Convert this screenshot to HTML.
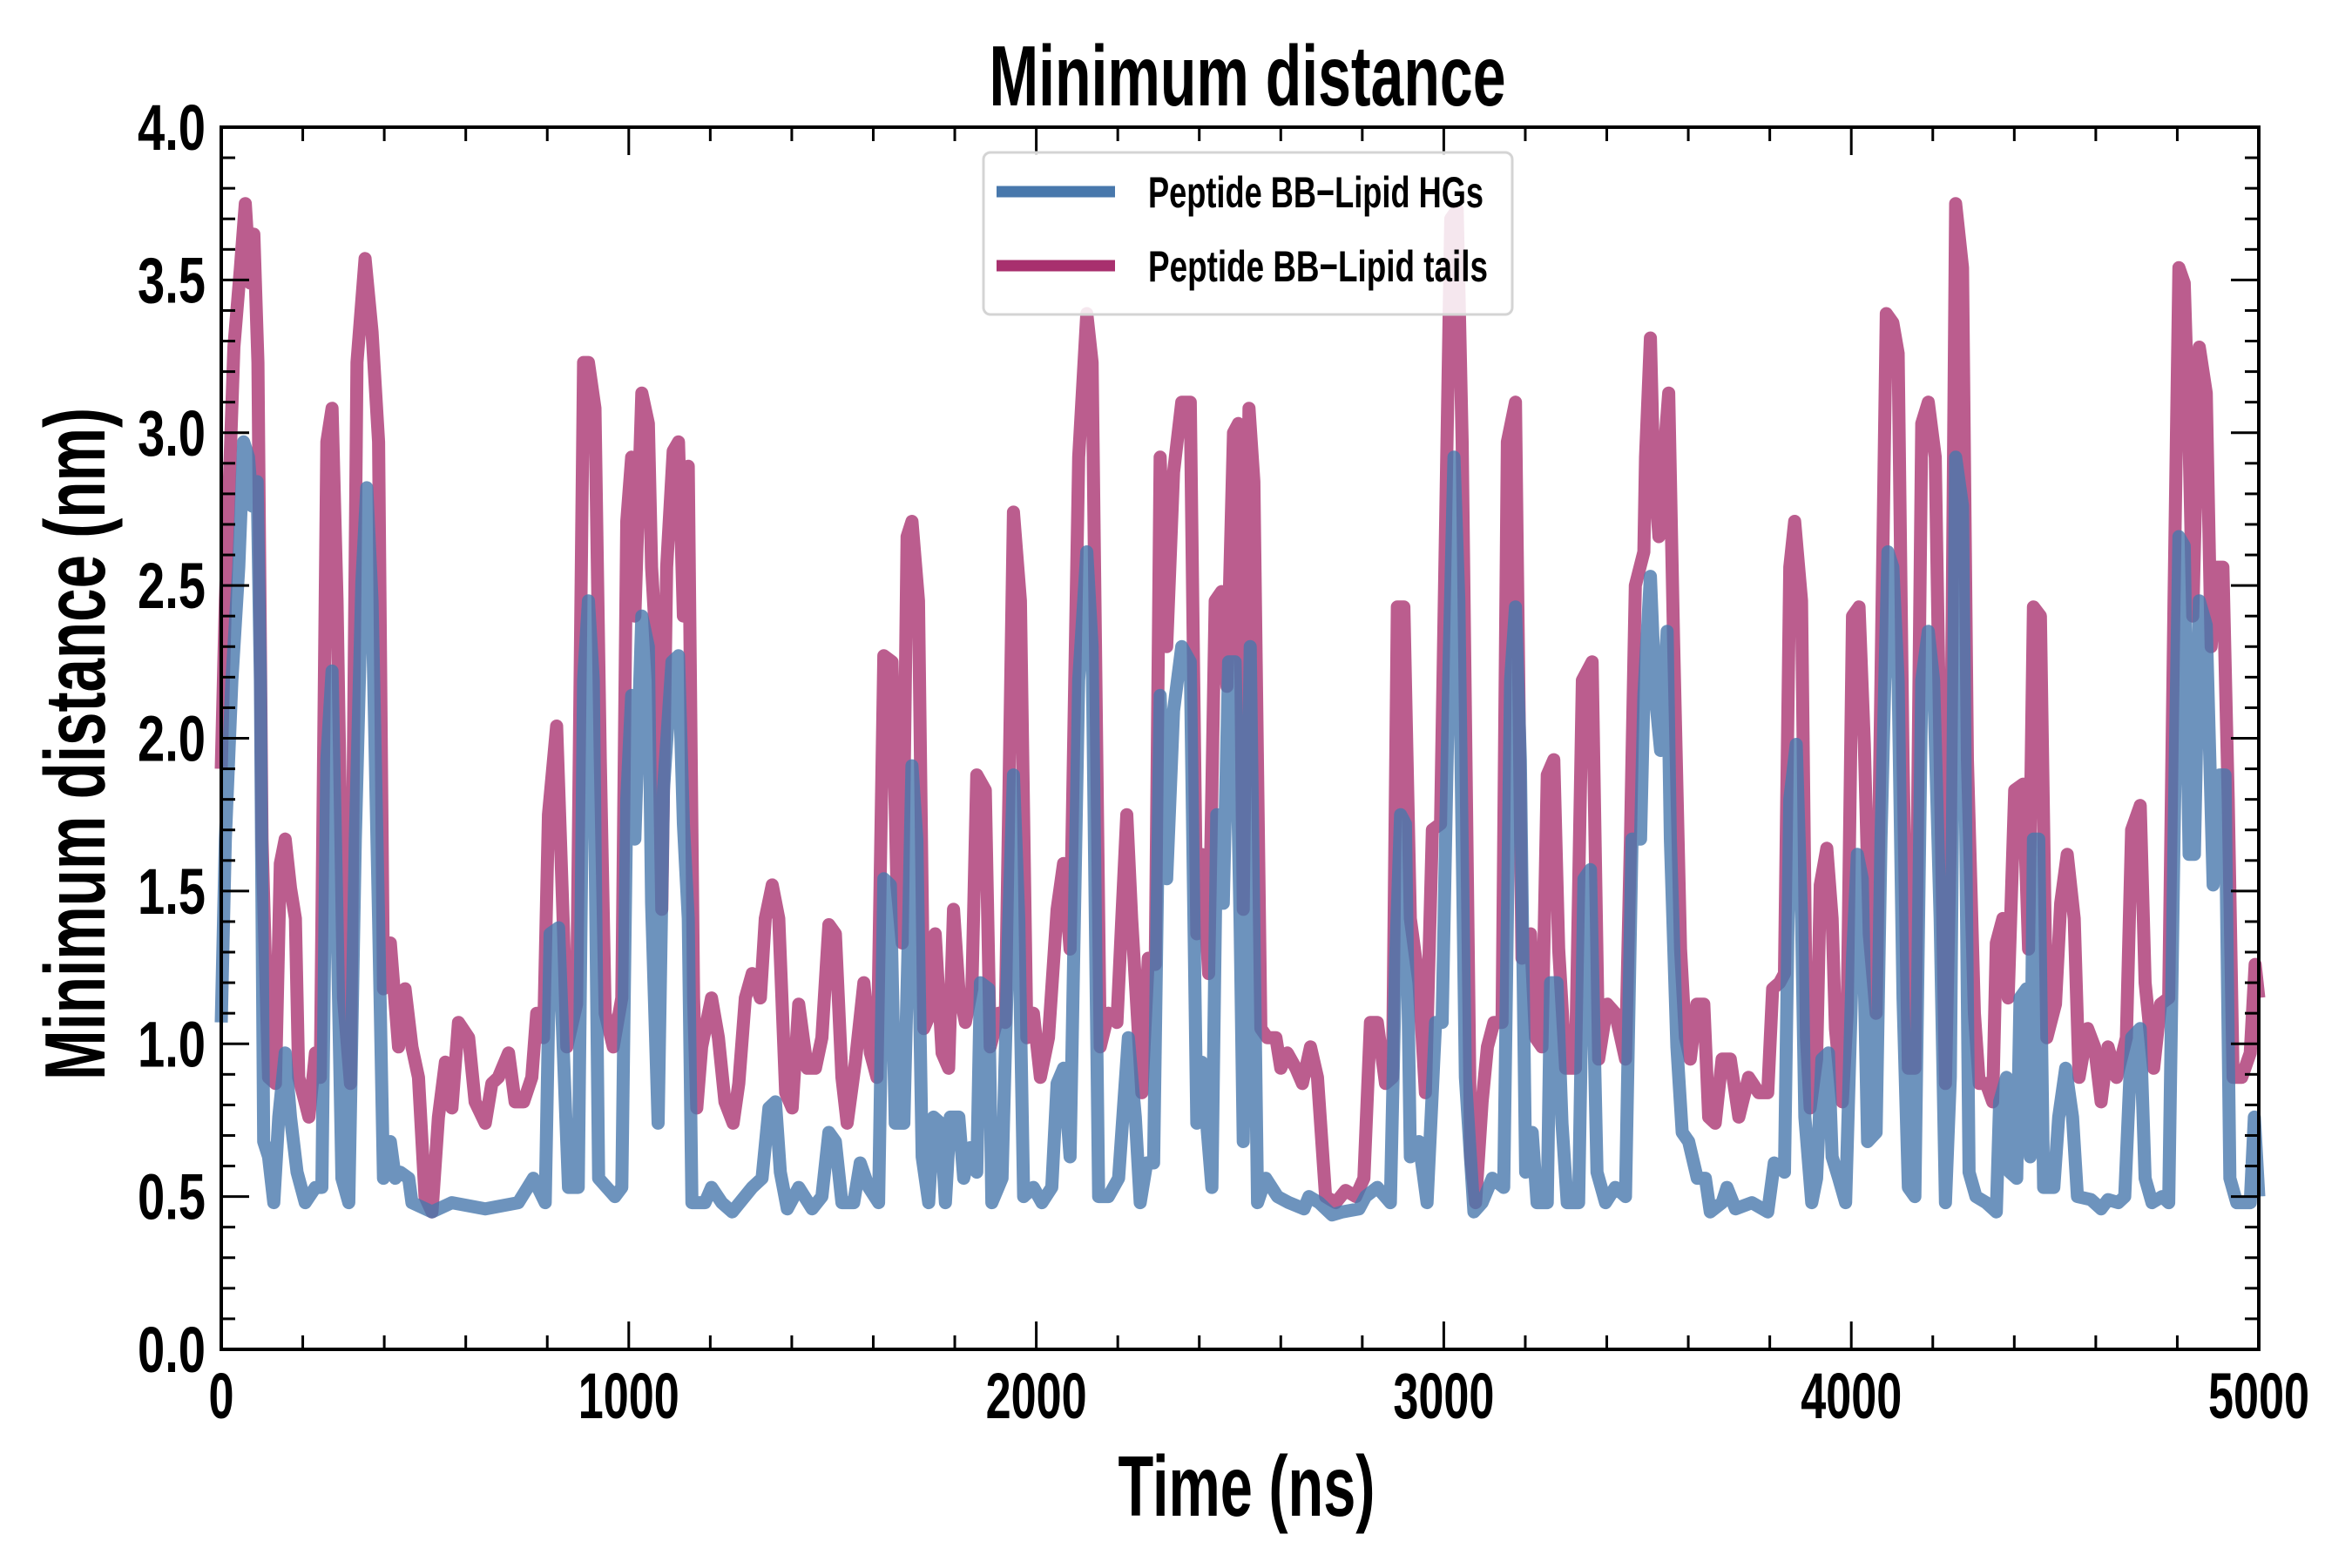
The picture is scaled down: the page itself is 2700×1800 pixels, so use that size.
<!DOCTYPE html>
<html><head><meta charset="utf-8"><style>
html,body{margin:0;padding:0;background:#fff;}
svg{display:block;}
text{font-family:"Liberation Sans Narrow","Liberation Sans",sans-serif;font-weight:bold;fill:#000;}
</style></head><body>
<svg id="chart" width="2700" height="1800" viewBox="0 0 2700 1800">
<rect width="2700" height="1800" fill="#fff"/>
<text x="1432" y="121" text-anchor="middle" font-size="98" textLength="593" lengthAdjust="spacingAndGlyphs">Minimum distance</text>
<text transform="translate(120,854) rotate(-90)" text-anchor="middle" font-size="98" textLength="772" lengthAdjust="spacingAndGlyphs">Minimum distance (nm)</text>
<text x="1431" y="1740" text-anchor="middle" font-size="98" textLength="295" lengthAdjust="spacingAndGlyphs">Time (ns)</text>
<g id="series"></g>
<g id="axes"></g>
<g>
<rect x="1129" y="175" width="607" height="186" rx="8" fill="#fff" fill-opacity="0.85" stroke="#d4d4d4" stroke-width="3"/>
<line x1="1144" y1="220" x2="1280" y2="220" stroke="#4878ac" stroke-width="13"/>
<line x1="1144" y1="305" x2="1280" y2="305" stroke="#a8306e" stroke-width="13"/>
<text x="1318" y="238" font-size="50" textLength="385" lengthAdjust="spacingAndGlyphs">Peptide BB−Lipid HGs</text>
<text x="1318" y="323" font-size="50" textLength="390" lengthAdjust="spacingAndGlyphs">Peptide BB−Lipid tails</text>
</g>
</svg>
<script>
const tailsT=[0,10,31,47,59,71,80,90,100,116,133,145,157,170,182,190,215,231,243,259,272,284,300,317,333,353,370,386,398,415,435,451,468,484,500,517,533,550,566,582,607,623,648,664,680,705,721,742,762,774,791,803,823,840,848,872,889,901,917,930,942,962,983,995,1007,1015,1032,1048,1056,1072,1081,1093,1109,1122,1134,1146,1159,1167,1179,1203,1220,1236,1256,1270,1286,1303,1323,1335,1352,1368,1385,1401,1417,1438,1458,1474,1491,1507,1523,1536,1556,1577,1593,1609,1626,1646,1658,1671,1683,1695,1711,1724,1740,1752,1769,1785,1797,1810,1826,1842,1854,1875,1887,1908,1924,1944,1961,1977,1993,2010,2030,2051,2067,2083,2104,2124,2137,2157,2177,2198,2210,2222,2234,2259,2275,2292,2304,2320,2337,2357,2378,2394,2406,2423,2439,2455,2468,2484,2496,2508,2522,2534,2551,2567,2588,2600,2616,2637,2653,2673,2690,2710,2735,2759,2784,2804,2820,2837,2857,2874,2886,2902,2918,2939,2955,2972,2992,3008,3017,3033,3045,3066,3078,3094,3107,3123,3143,3156,3176,3192,3213,3225,3241,3254,3270,3282,3299,3323,3340,3364,3380,3401,3421,3446,3458,3470,3491,3495,3507,3515,3528,3540,3552,3564,3581,3593,3605,3621,3638,3650,3666,3683,3703,3724,3748,3773,3795,3807,3824,3836,3849,3861,3878,3890,3899,3915,3924,3940,3953,3961,3978,3990,4003,4019,4032,4044,4061,4073,4086,4102,4115,4127,4140,4156,4173,4189,4206,4218,4231,4243,4256,4273,4285,4302,4314,4331,4347,4356,4372,4385,4401,4422,4435,4447,4464,4480,4501,4514,4530,4547,4559,4580,4597,4613,4630,4651,4675,4688,4709,4721,4742,4759,4779,4792,4804,4817,4829,4838,4854,4871,4883,4896,4912,4925,4937,4958,4979,4991,5000];
const tailsV=[1.9,2.45,3.28,3.54,3.75,3.49,3.65,3.23,1.67,0.89,0.87,1.59,1.67,1.51,1.41,0.89,0.76,0.97,0.89,2.97,3.08,2.45,1.15,0.87,3.23,3.57,3.33,2.97,1.18,1.33,0.99,1.18,0.99,0.89,0.5,0.45,0.76,0.94,0.79,1.07,1.02,0.81,0.74,0.87,0.89,0.97,0.81,0.81,0.89,1.1,1.02,1.75,2.04,1.36,0.99,1.13,3.23,3.23,3.08,1.93,1.1,0.99,1.15,2.71,2.92,2.4,3.13,3.03,2.56,2.19,1.44,2.56,2.94,2.97,2.4,2.89,1.15,0.79,0.99,1.15,1.02,0.81,0.74,0.87,1.15,1.23,1.15,1.41,1.52,1.41,0.84,0.79,1.13,0.92,0.92,1.02,1.39,1.36,0.89,0.74,0.94,1.2,0.97,0.89,2.27,2.25,1.52,1.33,2.66,2.71,2.45,1.05,1.1,1.36,0.97,0.92,1.44,1.18,1.07,1.18,1.88,1.83,0.99,1.1,1.07,2.74,2.45,1.02,1.1,0.89,1.02,1.44,1.59,1.31,2.92,3.39,3.23,0.99,1.1,1.07,1.41,1.75,1.41,0.84,1.28,1.26,2.92,2.3,2.87,3.1,3.1,1.36,1.62,1.23,2.45,2.48,2.17,3.0,3.03,1.44,3.08,2.84,1.05,1.02,1.02,0.92,0.97,0.92,0.87,0.99,0.89,0.5,0.48,0.52,0.5,0.56,1.07,1.07,0.87,0.89,2.43,2.43,1.41,1.2,0.84,1.7,1.72,2.97,3.7,3.73,2.97,0.63,0.48,0.81,0.99,1.07,1.07,2.97,3.1,1.28,1.36,1.02,0.99,1.88,1.93,1.31,0.92,0.92,2.19,2.25,0.95,1.13,1.1,0.95,1.67,2.5,2.61,2.92,3.31,2.89,2.66,2.92,3.13,2.32,1.31,1.02,0.95,1.13,1.13,0.76,0.74,0.95,0.95,0.76,0.89,0.84,0.84,1.18,1.2,1.23,2.56,2.71,2.45,1.02,0.79,0.95,1.52,1.64,1.41,1.05,0.81,1.1,2.4,2.43,1.98,1.36,1.1,2.19,3.39,3.36,3.26,1.93,0.92,0.92,3.03,3.1,2.92,1.93,0.87,1.67,3.75,3.54,1.93,1.1,0.87,0.87,0.81,1.33,1.41,1.15,1.83,1.85,1.31,2.43,2.4,1.02,1.13,1.46,1.62,1.41,0.89,1.05,0.99,0.81,0.99,0.89,1.02,1.7,1.78,1.2,0.92,1.13,1.15,2.45,3.54,3.49,2.97,2.4,3.28,3.13,2.3,2.56,2.56,1.8,0.89,0.89,0.97,1.26,1.15];
const hgsT=[0,10,26,43,55,67,76,88,96,104,116,129,141,157,170,186,206,231,247,259,272,284,296,313,329,345,357,370,386,398,415,427,439,460,468,517,566,648,729,766,795,807,828,852,876,889,901,913,926,966,983,995,1007,1015,1032,1048,1056,1072,1085,1106,1122,1134,1146,1155,1187,1203,1228,1254,1303,1327,1344,1360,1372,1389,1417,1450,1474,1491,1507,1523,1552,1568,1589,1613,1626,1642,1654,1675,1687,1695,1707,1720,1736,1748,1765,1777,1789,1810,1822,1838,1854,1863,1883,1891,1916,1932,1944,1957,1969,1993,2014,2038,2051,2067,2083,2104,2124,2137,2153,2177,2202,2214,2226,2243,2255,2271,2288,2304,2320,2337,2357,2378,2394,2406,2431,2443,2459,2472,2488,2500,2508,2525,2543,2563,2592,2620,2657,2669,2694,2726,2751,2792,2808,2837,2869,2882,2894,2906,2918,2939,2959,2980,2996,3012,3025,3037,3053,3074,3094,3119,3147,3164,3176,3188,3201,3217,3229,3254,3262,3278,3290,3303,3331,3344,3360,3376,3397,3421,3446,3462,3483,3491,3507,3519,3532,3548,3556,3572,3585,3601,3622,3642,3654,3683,3695,3716,3756,3795,3811,3836,3849,3865,3878,3886,3903,3915,3928,3944,3953,3969,3986,4003,4015,4027,4040,4061,4073,4090,4102,4115,4127,4140,4156,4173,4189,4202,4218,4231,4243,4256,4273,4289,4306,4331,4356,4364,4381,4389,4406,4414,4430,4439,4447,4460,4472,4497,4509,4526,4543,4555,4588,4613,4630,4655,4671,4688,4709,4721,4738,4763,4779,4792,4804,4817,4829,4842,4854,4871,4888,4904,4917,4929,4946,4979,4989,5000];
const hgsV=[1.07,1.67,2.19,2.56,2.97,2.92,2.76,2.84,2.19,0.68,0.63,0.48,0.76,0.97,0.76,0.58,0.48,0.53,0.53,1.93,2.22,1.41,0.56,0.48,1.67,2.51,2.82,2.45,1.41,0.56,0.68,0.56,0.58,0.56,0.48,0.45,0.48,0.46,0.48,0.56,0.48,1.36,1.38,0.53,0.53,2.19,2.45,2.19,0.56,0.5,0.53,1.8,2.14,1.67,2.4,2.3,1.46,0.74,1.83,2.25,2.27,1.72,1.41,0.48,0.48,0.53,0.48,0.45,0.53,0.56,0.79,0.81,0.58,0.46,0.53,0.46,0.5,0.71,0.68,0.48,0.48,0.61,0.53,0.48,1.54,1.52,0.74,0.74,1.41,1.91,1.67,0.63,0.48,0.76,0.74,0.48,0.76,0.76,0.56,0.66,0.58,1.2,1.18,0.48,0.56,1.38,1.88,1.41,0.5,0.53,0.48,0.53,0.87,0.92,0.63,2.19,2.61,2.3,0.5,0.5,0.56,0.79,1.02,0.76,0.48,0.61,0.61,2.14,1.54,2.09,2.3,2.25,0.74,0.94,0.53,1.75,1.46,2.25,2.25,1.41,0.68,2.3,0.48,0.56,0.5,0.48,0.46,0.5,0.48,0.44,0.45,0.46,0.5,0.53,0.48,1.28,1.75,1.72,0.63,0.68,0.48,1.07,1.07,2.19,2.92,2.45,0.89,0.45,0.48,0.56,0.53,2.19,2.43,1.93,0.58,0.71,0.48,0.48,1.2,1.2,0.74,0.48,0.48,1.54,1.57,0.58,0.48,0.53,0.5,1.67,1.67,2.14,2.53,2.14,1.96,2.35,1.67,0.99,0.71,0.68,0.56,0.56,0.45,0.48,0.53,0.46,0.48,0.45,0.61,0.58,1.8,1.98,1.41,0.76,0.48,0.56,0.95,0.97,0.63,0.56,0.48,1.28,1.62,1.54,0.68,0.71,1.67,2.61,2.56,2.19,1.15,0.53,0.5,2.19,2.35,2.19,1.41,0.48,0.89,2.92,2.76,0.58,0.5,0.48,0.45,0.81,0.89,0.58,0.56,1.15,1.18,0.63,1.67,1.67,0.53,0.53,0.76,0.92,0.76,0.5,0.49,0.46,0.49,0.48,0.5,1.02,1.05,0.56,0.48,0.5,0.48,1.67,2.66,2.63,1.62,1.62,2.45,2.37,1.52,1.88,1.88,0.56,0.48,0.48,0.76,0.5];
const yTickLabels=["0.0","0.5","1.0","1.5","2.0","2.5","3.0","3.5","4.0"];
const xTickLabels=["0","1000","2000","3000","4000","5000"];

const L=254,R=2593,T=146,B=1549,XMAX=5000,YMAX=4;
function sx(t){return L+(t/XMAX)*(R-L);}
function sy(v){return B-(v/YMAX)*(B-T);}
const NS="http://www.w3.org/2000/svg";
const series=document.getElementById('series');
const axes=document.getElementById('axes');
function mkPath(ts,vs,color,op,name){
  const p=document.createElementNS(NS,'path');
  let d='';
  for(let i=0;i<ts.length;i++){d+=(i?'L':'M')+sx(ts[i]).toFixed(1)+','+sy(vs[i]).toFixed(1);}
  p.setAttribute('d',d);
  p.setAttribute('fill','none');
  p.setAttribute('stroke',color);
  p.setAttribute('stroke-opacity',op);
  p.setAttribute('stroke-width','15');
  p.setAttribute('stroke-linejoin','round');
  
  
  series.appendChild(p);
}
mkPath(tailsT,tailsV,'#a8306e','0.78','line-lipid-tails');
mkPath(hgsT,hgsV,'#4878ac','0.8','line-lipid-hgs');

function ln(x1,y1,x2,y2,w,name){
  const l=document.createElementNS(NS,'line');
  l.setAttribute('x1',x1);l.setAttribute('y1',y1);l.setAttribute('x2',x2);l.setAttribute('y2',y2);
  l.setAttribute('stroke','#000');l.setAttribute('stroke-width',w);
  
  
  axes.appendChild(l);
}
for(let i=0;i<=40;i++){
  const v=i/10,y=sy(v),maj=(i%5===0),len=maj?32:16;
  ln(L,y,L+len,y,3,'y-tick');
  ln(R,y,R-len,y,3,'y-tick-right');
}
yTickLabels.forEach(function(s){
  const t=document.createElementNS(NS,'text');
  t.setAttribute('x',236);t.setAttribute('y',sy(parseFloat(s))+26);
  t.setAttribute('text-anchor','end');t.setAttribute('font-size','74');
  t.setAttribute('textLength','78');t.setAttribute('lengthAdjust','spacingAndGlyphs');
  t.textContent=s;
  
  
  axes.appendChild(t);
});
for(let i=0;i<=25;i++){
  const v=i*200,x=sx(v),maj=(i%5===0),len=maj?32:16;
  ln(x,B,x,B-len,3,'x-tick');
  ln(x,T,x,T+len,3,'x-tick-top');
}
xTickLabels.forEach(function(s){
  const t=document.createElementNS(NS,'text');
  t.setAttribute('x',sx(parseFloat(s)));t.setAttribute('y',1628);
  t.setAttribute('text-anchor','middle');t.setAttribute('font-size','74');
  t.setAttribute('textLength',String(29*s.length));t.setAttribute('lengthAdjust','spacingAndGlyphs');
  t.textContent=s;
  
  
  axes.appendChild(t);
});
const fr=document.createElementNS(NS,'rect');
fr.setAttribute('x',L);fr.setAttribute('y',T);fr.setAttribute('width',R-L);fr.setAttribute('height',B-T);
fr.setAttribute('fill','none');fr.setAttribute('stroke','#000');fr.setAttribute('stroke-width','4');


axes.appendChild(fr);
</script>
</body></html>
